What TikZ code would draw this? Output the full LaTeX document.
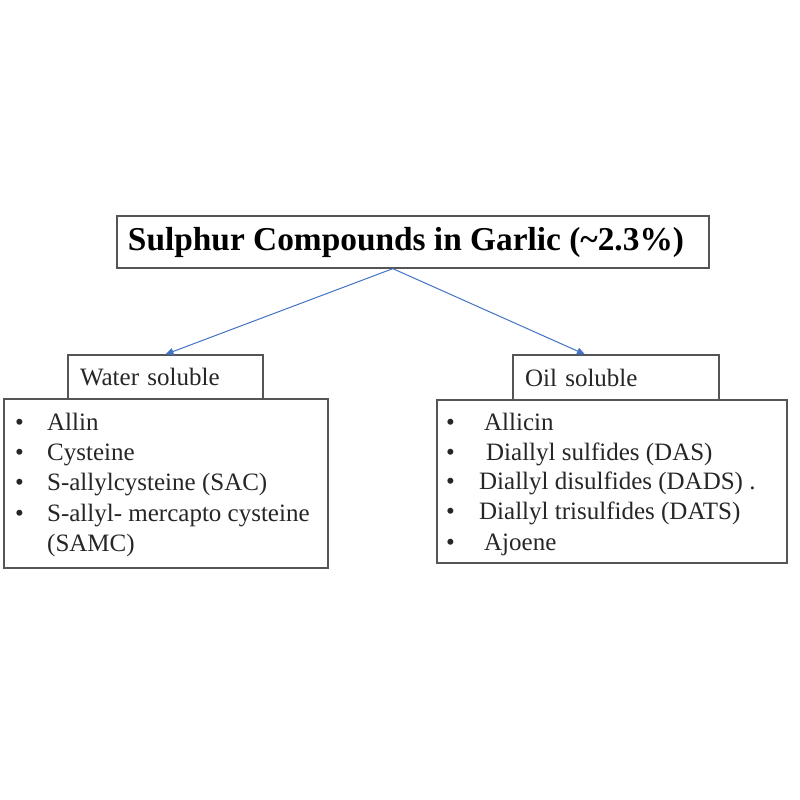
\documentclass[tikz,border=0pt]{standalone}
\usepackage{fontspec}
\setmainfont{Liberation Serif}
\usetikzlibrary{calc,arrows.meta}
\definecolor{boxline}{HTML}{555555}
\definecolor{arrblue}{HTML}{4472C4}
\tikzset{
  box/.style={draw=boxline, line width=1.3pt, fill=white, inner sep=0pt},
  headbox/.style={box, align=left, inner ysep=0pt, font=\fontsize{25}{30}\selectfont, text=black!85},
  item/.style={anchor=base west, inner sep=0pt, font=\fontsize{25}{30}\selectfont, text=black!85},
  arr/.style={draw=arrblue, line width=1pt, -{Triangle[length=8pt,width=7pt]}}
}
\newcommand{\bul}[1]{\makebox[#1][l]{\textbullet}}
\begin{document}
\begin{tikzpicture}[x=1pt,y=-1pt]
\useasboundingbox[fill=white] (0,0) rectangle (800,800);
% title
\node[box, minimum width=592pt, minimum height=52pt,
      font=\fontsize{33}{40}\selectfont\bfseries] (title) at (413,242) {\resizebox{556pt}{!}{Sulphur Compounds in Garlic ({\char"7E}2.3\%)}\hspace*{14pt}};
% category boxes
\node[headbox, text width=171pt, inner xsep=12pt, minimum height=45pt] (water) at (165.5,377.5) {Water soluble};
\node[headbox, text width=182pt, inner xsep=12pt, minimum height=45pt] (oil) at (616,377.5) {Oil soluble};
% list boxes
\node[box, minimum width=324pt, minimum height=169pt] (wlist) at (166,483.5) {};
\node[box, minimum width=350pt, minimum height=163pt] (olist) at (612,481.5) {};
% water list
\node[item] (w1) at (15,430) {\bul{32pt}Allin};
\node[item] (w2) at (15,460) {\bul{32pt}Cysteine};
\node[item] (w3) at (15,490) {\bul{32pt}S-allylcysteine (SAC)};
\node[item] (w4) at (15,521) {\bul{32pt}S-allyl- mercapto cysteine};
\node[item] (w5) at (47,551) {(SAMC)};
% oil list
\node[item] (o1) at (446,430) {\bul{38pt}Allicin};
\node[item] (o2) at (446,460) {\bul{40pt}Diallyl sulfides (DAS)};
\node[item] (o3) at (446,489) {\bul{33pt}Diallyl disulfides (DADS) .};
\node[item] (o4) at (446,519) {\bul{33pt}Diallyl trisulfides (DATS)};
\node[item] (o5) at (446,550) {\bul{38pt}Ajoene};
% arrows
\coordinate (src) at ($(title.south west)!0.466!(title.south east)$);
\draw[arr] (src) -- (water.north);
\draw[arr] (src) -- ($(oil.north west)!0.35!(oil.north east)$);
\end{tikzpicture}
\end{document}
